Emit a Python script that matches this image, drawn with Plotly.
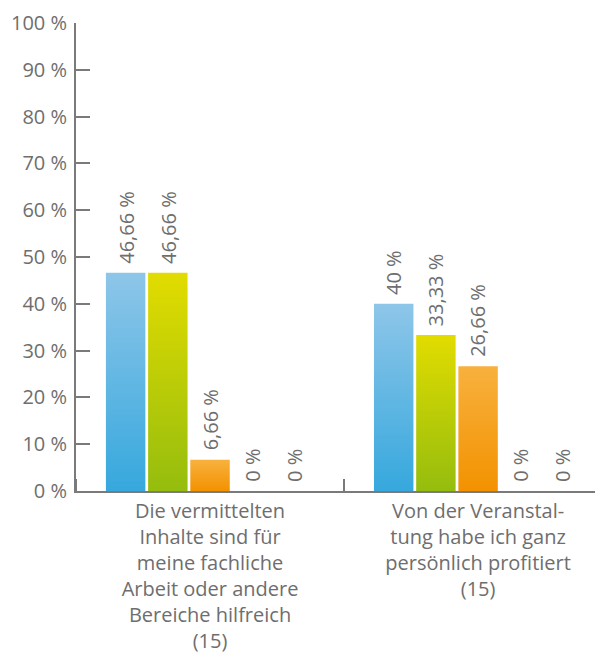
import plotly.graph_objects as go

# categories (x axis) and the five answer series, values in percent
KATEGORIEN = [
    "Die vermittelten<br>Inhalte sind für<br>meine fachliche<br>Arbeit oder andere<br>Bereiche hilfreich<br>(15)",
    "Von der Veranstal-<br>tung habe ich ganz<br>persönlich profitiert<br>(15)",
]
serie_1 = [46.66, 40]
serie_2 = [46.66, 33.33]
serie_3 = [6.66, 26.66]
serie_4 = [0, 0]
serie_5 = [0, 0]
SERIEN = [serie_1, serie_2, serie_3, serie_4, serie_5]

Y_TICKS = [0, 10, 20, 30, 40, 50, 60, 70, 80, 90, 100]
Y_TICKTEXT = [f"{t} %" for t in Y_TICKS]

# gradient (bottom, top) per series
VERLAUF = [
    ("#36a8dd", "#8ec6e9"),
    ("#95bd0e", "#e2dc00"),
    ("#f39200", "#f8b13e"),
    ("#9d9d9c", "#9d9d9c"),
    ("#1d1d1b", "#1d1d1b"),
]

GRAU = "#7a7a7a"
TEXT = "#6e6e6e"
FONT = "Open Sans"

BARGAP = 0.213
SLOT = (1 - BARGAP) / len(SERIEN)
BREITE = SLOT * 0.935

fig = go.Figure()
annotations = []
for j, werte in enumerate(SERIEN):
    unten, oben = VERLAUF[j]
    for i, v in enumerate(werte):
        mitte = i + (j - (len(SERIEN) - 1) / 2) * SLOT
        l, r = mitte - BREITE / 2, mitte + BREITE / 2
        if v > 0:
            fig.add_trace(go.Scatter(
                x=[l, r, r, l, l], y=[0, 0, v, v, 0],
                mode="lines", fill="toself",
                line=dict(width=0, color=unten),
                fillgradient=dict(type="vertical",
                                  colorscale=[[0, unten], [1, oben]]),
                hoverinfo="skip", showlegend=False,
            ))
        annotations.append(dict(
            x=mitte, y=v, xref="x", yref="y",
            text=f"{v:g}".replace(".", ",") + " %",
            textangle=-90, showarrow=False,
            xanchor="center", yanchor="bottom", yshift=7,
            font=dict(family=FONT, size=20, color=TEXT),
        ))

# page body has an 8px margin, so the figure is 8px smaller than the window
fig.update_layout(
    width=595, height=647,
    margin=dict(l=68, r=0, t=15, b=164),
    paper_bgcolor="white", plot_bgcolor="white",
    font=dict(family=FONT, size=20, color=TEXT),
    showlegend=False,
    annotations=annotations,
)
fig.update_yaxes(
    range=[0, 100], tickvals=Y_TICKS, ticktext=Y_TICKTEXT,
    ticks="inside", ticklen=14, tickwidth=2, tickcolor=GRAU,
    showline=True, linewidth=2, linecolor=GRAU,
    showgrid=False, zeroline=False, ticklabelstandoff=3,
    automargin=False,
    tickfont=dict(family=FONT, size=20, color=TEXT),
)
fig.update_xaxes(
    range=[-0.5, 1.466], tickvals=[0, 1], ticktext=KATEGORIEN,
    ticks="", showline=True, linewidth=2, linecolor=GRAU,
    showgrid=False, zeroline=False, automargin=False,
    ticklabelstandoff=1,
    minor=dict(tickvals=[-0.5, 0.5], ticks="inside", ticklen=12,
               tickwidth=2, tickcolor=GRAU, showgrid=False),
    tickfont=dict(family=FONT, size=20, color=TEXT),
)

fig.write_html("out.html")
